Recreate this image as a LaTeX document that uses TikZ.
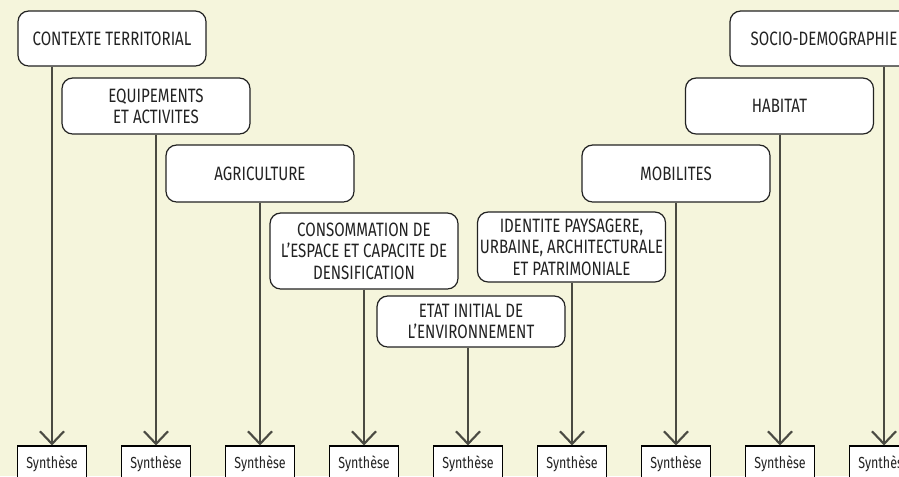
\documentclass[tikz,border=0pt]{standalone}
\usepackage{fontspec}
\setmainfont{Fira Sans}[FakeStretch=0.78]
\usepackage{xcolor}
\usepackage{tikz}
\usetikzlibrary{positioning,arrows.meta}

\definecolor{bgcream}{RGB}{245,245,220}
\definecolor{linegray}{RGB}{74,74,66}
\definecolor{textdark}{RGB}{34,34,34}

\begin{document}
\begin{tikzpicture}[x=0.75pt, y=-0.75pt,
		theme/.style={rectangle, rounded corners=8pt, draw=textdark, line width=0.9pt, fill=white, minimum width=141pt, align=center, text=textdark, font=\fontsize{14.5}{16}\selectfont, inner sep=0pt},
		synth/.style={rectangle, draw=black, line width=0.8pt, fill=white, minimum width=51.75pt, minimum height=27pt, text=textdark, font=\fontsize{12}{14}\selectfont, inner sep=0pt},
		fleche/.style={-{Straight Barb[length=9.5pt, width=18pt, line width=1.6pt]}, line width=2pt, draw=linegray}]
		\useasboundingbox (0,0) rectangle (899,476);
		\clip (0,0) rectangle (899,476);
		\fill[bgcream] (0,0) rectangle (899,476);
		
		% themes
		\node [theme, minimum height=41.25pt] (ctx) at (112,38.5) {CONTEXTE TERRITORIAL};
		\node [theme, minimum height=42pt] (equip) at (156,106) {EQUIPEMENTS\\ET ACTIVITES};
		\node [theme, minimum height=42.75pt] (agri) at (260,173.5) {AGRICULTURE};
		\node [theme, minimum height=57pt] (conso) at (364,251) {CONSOMMATION DE\\L'ESPACE ET CAPACITE DE\\DENSIFICATION};
		\node [theme, minimum height=38.25pt] (etat) at (471,321.5) {ETAT INITIAL DE\\L'ENVIRONNEMENT};
		\node [theme, minimum height=52.5pt] (ident) at (571.5,247) {IDENTITE PAYSAGERE,\\URBAINE, ARCHITECTURALE\\ET PATRIMONIALE};
		\node [theme, minimum height=42.75pt] (mobil) at (676,173.5) {MOBILITES};
		\node [theme, minimum height=42pt] (habit) at (779.5,106) {HABITAT};
		\node [theme, minimum height=41.25pt] (socio) at (824,38.5) {SOCIO-DEMOGRAPHIE};
		
		% syntheses
		\foreach \i in {1,...,9}
			\node [synth] (s\i) at ({52+104*(\i-1)},464) {Synthèse};
		
		\draw[fleche] (ctx.south -| s1.north) -- (s1.north);
		\draw[fleche] (equip.south -| s2.north) -- (s2.north);
		\draw[fleche] (agri.south -| s3.north) -- (s3.north);
		\draw[fleche] (conso.south -| s4.north) -- (s4.north);
		\draw[fleche] (etat.south -| s5.north) -- (s5.north);
		\draw[fleche] (ident.south -| s6.north) -- (s6.north);
		\draw[fleche] (mobil.south -| s7.north) -- (s7.north);
		\draw[fleche] (habit.south -| s8.north) -- (s8.north);
		\draw[fleche] (socio.south -| s9.north) -- (s9.north);
	\end{tikzpicture}
\end{document}
